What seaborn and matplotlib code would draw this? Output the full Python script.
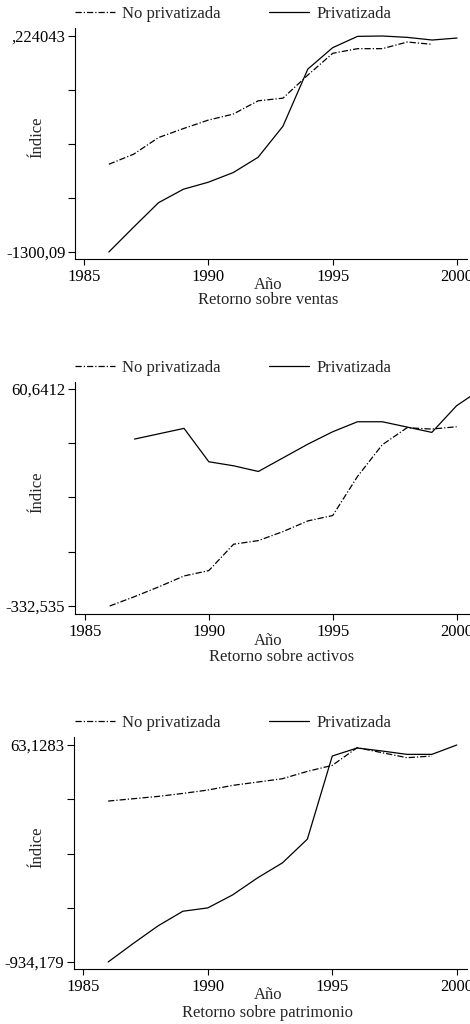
import numpy as np
import pandas as pd
import matplotlib
matplotlib.use("Agg")
import matplotlib.pyplot as plt
import seaborn as sns

# ── data ──
series_names = ["No privatizada", "Privatizada"]

# Retorno sobre ventas
ventas_years_np = list(range(1986, 2000))
ventas_np = [-772, -711, -611, -557, -506, -470, -390, -374, -235, -104, -76, -76, -36, -50]
ventas_years_p = list(range(1986, 2001))
ventas_p = [-1300.09, -1150, -1003, -922, -880, -822, -730, -543, -199, -70, -2, 0.224043, -8, -24, -12]
ventas_ticklabels = ["-1300,09", "", "", "", ",224043"]
ventas_lims = (-1300.09, 0.224043)

# Retorno sobre activos
activos_years_np = list(range(1986, 2001))
activos_np = [-332.535, -315.6, -297.5, -278.1, -268.4, -220.6, -214, -197.6, -178.3, -168.6,
              -97.8, -40.4, -9.5, -12, -7.7]
activos_years_p = [1987, 1989, 1990, 1991, 1992, 1993, 1994, 1995, 1996, 1997, 1998, 1999, 2000, 2001]
activos_p = [-30.1, -10.7, -71.2, -78.5, -88.8, -64, -39.2, -16.8, 1.3, 1.3, -8.3, -18, 30.4, 60.6412]
activos_ticklabels = ["-332,535", "", "", "", "60,6412"]
activos_lims = (-332.535, 60.6412)

# Retorno sobre patrimonio
patrim_years_np = list(range(1986, 2000))
patrim_np = [-194.6, -183.9, -173.2, -159.4, -144, -122.5, -107.2, -91.8, -58.1, -30.5,
             50.8, 27.8, 4.8, 12.5]
patrim_years_p = list(range(1986, 2001))
patrim_p = [-934.179, -849.7, -768.5, -700.9, -685.6, -625.8, -547.5, -478.5, -369.6, 12.5,
            49.3, 35.5, 20.1, 20.1, 63.1283]
patrim_ticklabels = ["-934,179", "", "", "", "63,1283"]
patrim_lims = (-934.179, 63.1283)

subtitles = ["Retorno sobre ventas", "Retorno sobre activos", "Retorno sobre patrimonio"]
xticks = [1985, 1990, 1995, 2000]

sns.set_theme(style="ticks")
plt.rcParams["font.family"] = ["Liberation Serif", "DejaVu Serif"]
plt.rcParams["font.size"] = 12

W, H = 470, 1024
fig = plt.figure(figsize=(W / 100, H / 100), dpi=100)

def frac_box(left, top, right, bottom):
    return [left / W, 1 - bottom / H, (right - left) / W, (bottom - top) / H]

def make_df(y_np, v_np, y_p, v_p):
    a = pd.DataFrame({"year": y_np, "value": v_np, "serie": series_names[0]})
    b = pd.DataFrame({"year": y_p, "value": v_p, "serie": series_names[1]})
    return pd.concat([a, b], ignore_index=True)

# (data, ticklabels, lims, box px, xlim, ylim pad px, legend y px, Año y px, subtitle (x,y) px)
panels = [
    (make_df(ventas_years_np, ventas_np, ventas_years_p, ventas_p), ventas_ticklabels, ventas_lims,
     (75, 28, 467, 259), (1984.64, 2000.4), (36, 252), 14, 285, (268, 300)),
    (make_df(activos_years_np, activos_np, activos_years_p, activos_p), activos_ticklabels, activos_lims,
     (75, 382, 470, 614), (1984.6, 2000.54), (389, 606), 368, 641, (282, 657)),
    (make_df(patrim_years_np, patrim_np, patrim_years_p, patrim_p), patrim_ticklabels, patrim_lims,
     (74, 737, 467, 969), (1984.63, 2000.41), (745, 962), 723, 995, (268, 1013)),
]

dash_styles = {series_names[0]: (5, 1.6, 1, 1.6), series_names[1]: ""}

for i, (df, tlabels, lims, box, xlim, ypix, leg_y, ano_y, sub_xy) in enumerate(panels):
    ax = fig.add_axes(frac_box(*box))
    sns.lineplot(data=df, x="year", y="value", style="serie", style_order=series_names,
                 dashes=dash_styles, color="black", linewidth=0.9, errorbar=None, ax=ax)

    lo, hi = lims
    top_px, bot_px = ypix
    per_px = (hi - lo) / (bot_px - top_px)
    ax.set_ylim(lo - (box[3] - bot_px) * per_px, hi + (top_px - box[1]) * per_px)
    ax.set_xlim(*xlim)
    ax.set_yticks(np.linspace(lo, hi, 5))
    ax.set_yticklabels(tlabels)
    ax.set_xticks(xticks)
    ax.set_xticklabels([str(t) for t in xticks])
    ax.tick_params(axis="y", length=5, width=0.8, pad=2, labelsize=12, colors="black")
    ax.tick_params(axis="x", length=4.5, width=0.8, pad=2.5, labelsize=12, colors="black")
    sns.despine(ax=ax)
    for s in ("left", "bottom"):
        ax.spines[s].set_linewidth(0.8)
        ax.spines[s].set_color("black")
    ax.set_xlabel("")
    ax.set_ylabel("")

    fig.text(37 / W, 1 - ((box[1] + box[3]) / 2 - 6) / H, "Índice", rotation=90,
             ha="center", va="center", fontsize=12)
    fig.text(268 / W, 1 - ano_y / H, "Año", ha="center", va="center", fontsize=12)
    fig.text(sub_xy[0] / W, 1 - sub_xy[1] / H, subtitles[i], ha="center", va="center", fontsize=12)

    sns.move_legend(ax, "center left", bbox_to_anchor=(75 / W, 1 - leg_y / H),
                    bbox_transform=fig.transFigure, ncol=2, frameon=False, title=None,
                    borderpad=0, borderaxespad=0, handlelength=2.4, handletextpad=0.45,
                    columnspacing=2.9, fontsize=12)

fig.savefig("out.png", dpi=100, facecolor="white")
